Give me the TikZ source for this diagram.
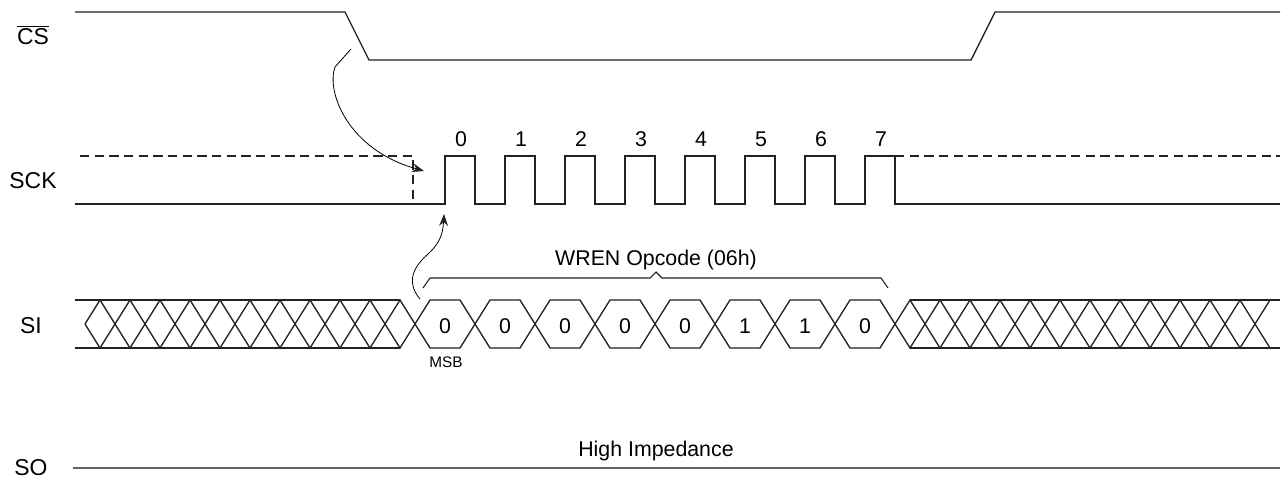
\documentclass[tikz,border=0pt]{standalone}
\usepackage{fontspec}
\setmainfont{Liberation Sans}

\begin{document}
\begin{tikzpicture}[x=0.75pt,y=0.75pt,yscale=-1,
	wave/.style={line width=1pt, color={rgb, 255:red, 34; green, 34; blue, 34 }},
	idle/.style={wave, dash pattern=on 7pt off 4pt},
	tip/.style={fill={rgb, 255:red, 34; green, 34; blue, 34 }, line width=0.08, draw opacity=0},
	signame/.style={anchor=base, inner sep=0.75pt, font=\fontsize{17.2}{20}\selectfont},
	bitlbl/.style={anchor=base, inner sep=0.75pt, font=\fontsize{16}{19}\selectfont},
	note/.style={anchor=base, inner sep=0.75pt, font=\fontsize{11.5}{13}\selectfont}]
				%set diagram to the size of the reference
				\useasboundingbox (0,0) rectangle (1283,479);
				
				%Signal names
				\node [signame] (csname) at (33,44) {$\overline{\hbox{CS}}$};
				\node [signame] (sckname) at (33,188) {SCK};
				\node [signame] (siname) at (31,333) {SI};
				\node [signame] (soname) at (31,475) {SO};
				
				%Straight Lines: chip select
				\draw [wave] (75,12) -- (345,12) -- (369,60) -- (971,60) -- (995,12) -- (1280,12) ;
				
				%Straight Lines: clock
				\draw [wave] (75,204) -- (445,204) -- (445,156) -- (475,156) -- (475,204) -- (505,204) -- (505,156) -- (535,156) -- (535,204) -- (565,204) -- (565,156) -- (595,156) -- (595,204) -- (625,204) -- (625,156) -- (655,156) -- (655,204) -- (685,204) -- (685,156) -- (715,156) -- (715,204) -- (745,204) -- (745,156) -- (775,156) -- (775,204) -- (805,204) -- (805,156) -- (835,156) -- (835,204) -- (865,204) -- (865,156) -- (895,156) -- (895,204) -- (1280,204) ;
				\draw [idle] (80,156) -- (413,156) -- (413,204) ;
				\draw [idle] (895,156) -- (1280,156) ;
				
				%Clock numbers
				\node [bitlbl] (clk0) at (461,146) {0};
				\node [bitlbl] (clk1) at (521,146) {1};
				\node [bitlbl] (clk2) at (581,146) {2};
				\node [bitlbl] (clk3) at (641,146) {3};
				\node [bitlbl] (clk4) at (701,146) {4};
				\node [bitlbl] (clk5) at (761,146) {5};
				\node [bitlbl] (clk6) at (821,146) {6};
				\node [bitlbl] (clk7) at (881,146) {7};
				
				%Straight Lines: serial input rails
				\draw [wave] (75,300) -- (400,300) ;
				\draw [wave] (75,348) -- (400,348) ;
				\draw [wave] (910,300) -- (1280,300) ;
				\draw [wave] (910,348) -- (1280,348) ;
				
				%Shape: serial input crossings and data cells
				\draw [wave] (85,324) -- (100,300) -- (130,348) -- (160,300) -- (190,348) -- (220,300) -- (250,348) -- (280,300) -- (310,348) -- (340,300) -- (370,348) -- (400,300) -- (430,348) -- (460,348) -- (490,300) -- (520,300) -- (550,348) -- (580,348) -- (610,300) -- (640,300) -- (670,348) -- (700,348) -- (730,300) -- (760,300) -- (790,348) -- (820,348) -- (850,300) -- (880,300) -- (910,348) -- (940,300) -- (970,348) -- (1000,300) -- (1030,348) -- (1060,300) -- (1090,348) -- (1120,300) -- (1150,348) -- (1180,300) -- (1210,348) -- (1240,300) -- (1270,348) ;
				\draw [wave] (85,324) -- (100,348) -- (130,300) -- (160,348) -- (190,300) -- (220,348) -- (250,300) -- (280,348) -- (310,300) -- (340,348) -- (370,300) -- (400,348) -- (430,300) -- (460,300) -- (490,348) -- (520,348) -- (550,300) -- (580,300) -- (610,348) -- (640,348) -- (670,300) -- (700,300) -- (730,348) -- (760,348) -- (790,300) -- (820,300) -- (850,348) -- (880,348) -- (910,300) -- (940,348) -- (970,300) -- (1000,348) -- (1030,300) -- (1060,348) -- (1090,300) -- (1120,348) -- (1150,300) -- (1180,348) -- (1210,300) -- (1240,348) -- (1270,300) ;
				
				%Data bits
				\node [bitlbl] (bit7) at (445,333) {0};
				\node [bitlbl] (bit6) at (505,333) {0};
				\node [bitlbl] (bit5) at (565,333) {0};
				\node [bitlbl] (bit4) at (625,333) {0};
				\node [bitlbl] (bit3) at (685,333) {0};
				\node [bitlbl] (bit2) at (745,333) {1};
				\node [bitlbl] (bit1) at (805,333) {1};
				\node [bitlbl] (bit0) at (865,333) {0};
				\node [note] (msb) at (446,367) {MSB};
				
				%Shape: brace over opcode
				\draw [wave, line width=0.8pt] (423,288) -- (430,278) -- (650,278) -- (656,272) -- (662,278) -- (881,278) -- (888,288) ;
				\node [bitlbl] (opcode) at (656,265) {WREN Opcode (06h)};
				
				%Curve Lines: chip select to clock
				\draw [line width=0.6pt] (351,49) -- (335,67) .. controls (326,92) and (348,150) .. (417,169) ;
				\draw [shift={(424,171)}, rotate = -164] [tip] (12,-4.5) -- (0,0) -- (12,4.5) -- (8,0) -- cycle ;
				
				%Curve Lines: first bit to clock
				\draw [line width=0.6pt] (420,299) .. controls (408,285) and (410,270) .. (427,255) .. controls (438,245) and (443,236) .. (443.5,222) ;
				\draw [shift={(444,214)}, rotate = 92] [tip] (12,-4.5) -- (0,0) -- (12,4.5) -- (8,0) -- cycle ;
				
				%Straight Lines: serial output
				\draw [line width=1.4pt, color={rgb, 255:red, 100; green, 100; blue, 100 }] (73,468) -- (1280,468) ;
				\node [bitlbl] (hiz) at (656,456) {High Impedance};
				
			\end{tikzpicture}
\end{document}
